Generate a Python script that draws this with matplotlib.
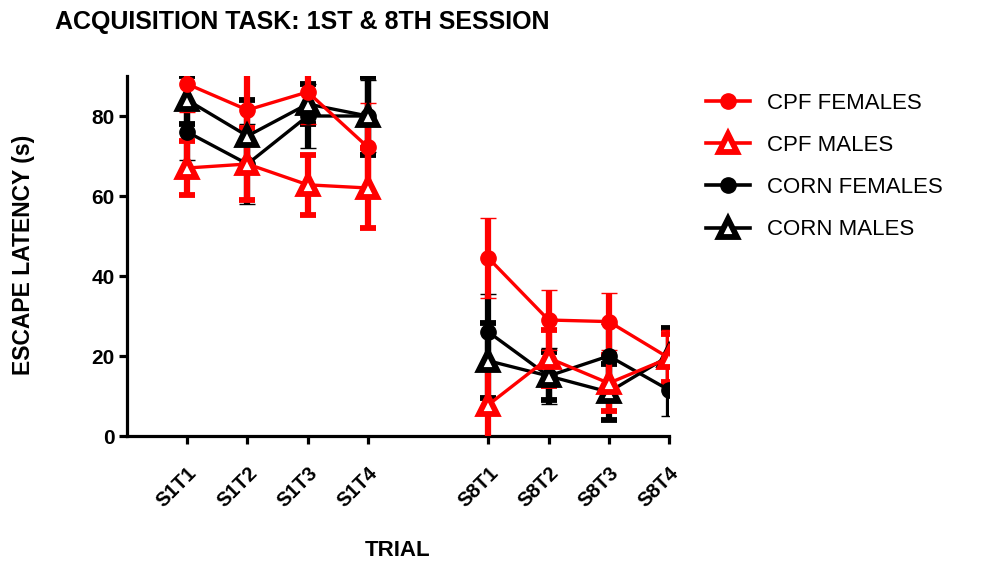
import matplotlib
matplotlib.use("Agg")
import matplotlib.pyplot as plt
from matplotlib.lines import Line2D

# ---- data ----
trials = ["S1T1", "S1T2", "S1T3", "S1T4", "S8T1", "S8T2", "S8T3", "S8T4"]
xpos = [1, 2, 3, 4, 6, 7, 8, 9]

cpf_f = [88, 81.5, 86, 72.2, 44.5, 29, 28.6, 19.5]
cpf_f_sem = [7, 9, 8, 11, 10, 7.5, 7.2, 7]
cpf_m = [67, 68, 62.8, 62, 7.8, 19.5, 13.2, 19.5]
cpf_m_sem = [6.7, 9, 7.5, 10, 10, 7, 7, 6]
corn_f = [76, 68, 80, 80, 26, 15, 20, 11.5]
corn_f_sem = [7, 10, 8, 9, 9.5, 7, 8, 6.5]
corn_m = [84, 75, 83, 80, 18.8, 15, 11, 20]
corn_m_sem = [6, 9, 5, 9.8, 9.4, 6, 7, 7]

labels = ["CPF FEMALES", "CPF MALES", "CORN FEMALES", "CORN MALES"]

plt.rcParams['font.family'] = ['Liberation Sans', 'DejaVu Sans']

fig = plt.figure(figsize=(9.94, 5.61), dpi=100)
ax = fig.add_axes([127/994, 1-436/561, (669-127)/994, (436-76)/561])

series = [
    (corn_f, corn_f_sem, 'black', 'o'),
    (corn_m, corn_m_sem, 'black', '^'),
    (cpf_f, cpf_f_sem, 'red', 'o'),
    (cpf_m, cpf_m_sem, 'red', '^'),
]

for vals, sem, col, mk in series:
    for seg in (slice(0, 4), slice(4, 8)):
        if mk == 'o':
            kw = dict(ms=11, mfc=col, mec=col, mew=1)
        else:
            kw = dict(ms=13, mfc='white', mec=col, mew=4.2)
        ax.errorbar(xpos[seg], vals[seg], yerr=sem[seg], color=col,
                    ecolor=col, elinewidth=4.5, capsize=5.5, capthick=4.5,
                    lw=2.4, marker=mk, clip_on=True, zorder=3, **kw)

ax.set_xlim(0, 9)
ax.set_ylim(0, 90)
ax.set_xticks(xpos)
ax.set_xticklabels(trials, rotation=45, ha='right', rotation_mode='anchor',
                   fontsize=14.5, fontweight='bold')
ax.set_yticks([0, 20, 40, 60, 80])
ax.set_yticklabels(["0", "20", "40", "60", "80"], fontsize=15, fontweight='bold')
for s in ['top', 'right']:
    ax.spines[s].set_visible(False)
for s in ['left', 'bottom']:
    ax.spines[s].set_linewidth(2.3)
ax.tick_params(axis='both', length=5.5, width=2.3, direction='out')
ax.tick_params(axis='x', pad=14)

ax.set_ylabel("ESCAPE LATENCY (s)", fontsize=16.5, fontweight='bold')
ax.yaxis.set_label_coords(24/994, 1-255/561, transform=fig.transFigure)
ax.yaxis.label.set_va('center')
ax.set_xlabel("TRIAL", fontsize=16, fontweight='bold')
ax.xaxis.set_label_coords(398/994, 1-551/561, transform=fig.transFigure)
ax.xaxis.label.set_va('center')

fig.text(55/994, 1-22/561, "ACQUISITION TASK: 1ST & 8TH SESSION", fontsize=18,
         fontweight='bold', ha='left', va='center')

handles = [
    Line2D([], [], color='red', lw=2.6, marker='o', ms=11, mfc='red', mec='red'),
    Line2D([], [], color='red', lw=2.6, marker='^', ms=13, mfc='white', mec='red', mew=4.2),
    Line2D([], [], color='black', lw=2.6, marker='o', ms=11, mfc='black', mec='black'),
    Line2D([], [], color='black', lw=2.6, marker='^', ms=13, mfc='white', mec='black', mew=4.2),
]
leg = fig.legend(handles, labels, loc='upper left',
                 bbox_to_anchor=(706/994, 1-93/561), frameon=False,
                 fontsize=16, handlelength=2.0, handletextpad=0.75,
                 labelspacing=0.95, borderpad=0, borderaxespad=0)

fig.savefig("out.png", dpi=100)
